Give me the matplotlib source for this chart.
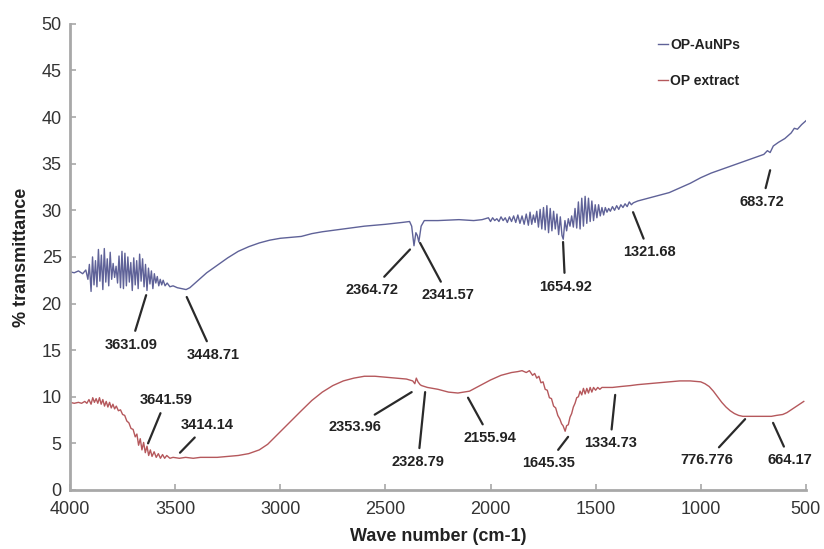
import matplotlib
matplotlib.use("Agg")
import matplotlib.pyplot as plt

plt.rcParams['font.family'] = ['Liberation Sans', 'DejaVu Sans']

# OP-AuNPs spectrum (wave number, % transmittance)
aunp_wn = [4000, 3980, 3960, 3940, 3925, 3915, 3908, 3900, 3893, 3886, 3879, 3872, 3865, 3858,
           3851, 3844, 3837, 3830, 3823, 3816, 3809, 3802, 3795, 3788, 3781, 3774, 3767, 3760,
           3753, 3746, 3739, 3732, 3725, 3718, 3711, 3704, 3697, 3690, 3683, 3676, 3669, 3662,
           3655, 3648, 3641, 3634, 3627, 3620, 3613, 3606, 3599, 3592, 3585, 3578, 3571, 3564,
           3557, 3548, 3538, 3525, 3510, 3490, 3470, 3448, 3430, 3410, 3380, 3350, 3300, 3250,
           3200, 3150, 3100, 3050, 3000, 2950, 2900, 2850, 2800, 2700, 2600, 2500, 2420, 2385,
           2375, 2364, 2355, 2348, 2341, 2330, 2315, 2250, 2150, 2080, 2040, 2010, 2000, 1990,
           1980, 1970, 1960, 1950, 1940, 1930, 1920, 1910, 1900, 1890, 1880, 1870, 1860, 1850,
           1840, 1830, 1820, 1812, 1804, 1796, 1788, 1780, 1772, 1764, 1756, 1748, 1740, 1732,
           1724, 1716, 1708, 1700, 1692, 1684, 1676, 1668, 1660, 1654, 1646, 1638, 1630, 1622,
           1614, 1606, 1598, 1590, 1582, 1574, 1566, 1558, 1550, 1542, 1534, 1526, 1518, 1510,
           1502, 1494, 1486, 1478, 1470, 1462, 1454, 1446, 1438, 1430, 1420, 1410, 1400, 1390,
           1380, 1370, 1360, 1350, 1340, 1330, 1321, 1300, 1250, 1200, 1150, 1100, 1050, 1000,
           950, 900, 850, 800, 750, 700, 683, 670, 655, 630, 600, 570, 555, 540, 520, 500]
aunp_t = [23.4, 23.3, 23.5, 23.2, 23.6, 22.6, 24.2, 21.3, 25.0, 22.0, 24.6, 21.8, 25.8, 22.4,
          25.2, 21.5, 25.9, 22.3, 24.8, 21.9, 25.5, 22.6, 24.3, 22.8, 24.0, 22.2, 25.1, 21.7,
          25.6, 21.6, 25.4, 21.9, 25.0, 22.3, 24.4, 21.4, 24.9, 22.0, 24.6, 21.6, 25.3, 22.4,
          24.8, 21.8, 24.2, 21.4, 23.8, 22.1, 23.5, 21.6, 23.2, 22.2, 22.9, 21.9, 22.6, 22.0,
          22.5, 21.9, 22.2, 21.8, 21.9, 21.7, 21.6, 21.5, 21.7, 22.1, 22.7, 23.3, 24.1, 24.9,
          25.6, 26.1, 26.5, 26.8, 27.0, 27.1, 27.2, 27.5, 27.7, 28.0, 28.3, 28.5, 28.7, 28.8,
          28.3, 26.2, 27.6, 27.3, 26.6, 28.3, 28.9, 28.9, 29.0, 28.9, 29.0, 29.2, 28.8, 29.2,
          28.9, 29.1, 28.8, 29.3, 28.9, 29.2, 28.7, 29.3, 28.8, 29.4, 28.7, 29.5, 28.6, 29.4,
          28.5, 29.6, 28.4, 29.8, 28.5, 29.5, 28.7, 29.9, 28.2, 30.1, 28.0, 30.3, 27.9, 30.5,
          27.6, 30.2, 27.8, 29.9, 28.0, 29.6, 27.4, 29.3, 27.3, 26.9, 28.9, 27.8, 29.1, 28.3,
          29.4, 28.2, 30.2, 28.1, 30.9, 28.0, 31.3, 28.3, 31.5, 28.6, 31.3, 28.8, 31.0, 28.9,
          30.6, 29.2, 30.6, 29.4, 30.3, 29.5, 30.3, 29.8, 30.2, 29.9, 30.4, 30.0, 30.5, 30.1,
          30.6, 30.3, 30.7, 30.4, 30.9, 30.6, 30.8, 31.0, 31.3, 31.6, 31.9, 32.4, 32.9, 33.5,
          34.0, 34.4, 34.8, 35.2, 35.6, 36.0, 36.4, 36.2, 36.9, 37.3, 37.7, 38.3, 38.8, 38.7,
          39.2, 39.6]

# OP extract spectrum
ext_wn = [4000, 3980, 3960, 3945, 3930, 3920, 3910, 3900, 3892, 3884, 3876, 3868, 3860, 3852,
          3844, 3836, 3828, 3820, 3812, 3804, 3796, 3788, 3780, 3770, 3760, 3750, 3740, 3730,
          3720, 3710, 3700, 3690, 3682, 3674, 3666, 3658, 3650, 3642, 3634, 3626, 3618, 3610,
          3600, 3590, 3580, 3570, 3560, 3550, 3540, 3525, 3510, 3480, 3450, 3414, 3380, 3300,
          3250, 3200, 3150, 3100, 3060, 3020, 2980, 2940, 2900, 2850, 2800, 2750, 2700, 2650,
          2600, 2550, 2500, 2450, 2400, 2370, 2360, 2353, 2345, 2335, 2328, 2300, 2250, 2200,
          2155, 2100, 2050, 2000, 1950, 1900, 1870, 1850, 1830, 1815, 1800, 1790, 1780, 1770,
          1760, 1750, 1740, 1730, 1720, 1710, 1700, 1690, 1680, 1670, 1662, 1655, 1645, 1638,
          1630, 1622, 1614, 1606, 1598, 1590, 1582, 1574, 1566, 1558, 1550, 1542, 1534, 1526,
          1518, 1510, 1500, 1490, 1480, 1470, 1450, 1420, 1380, 1334, 1300, 1250, 1200, 1150,
          1100, 1050, 1000, 980, 960, 940, 920, 900, 880, 860, 840, 820, 800, 776, 740, 700,
          664, 640, 610, 590, 570, 550, 530, 510]
ext_t = [9.4, 9.3, 9.4, 9.3, 9.5, 9.3, 9.7, 9.2, 9.9, 9.4, 9.8, 9.3, 9.9, 9.2,
         9.7, 9.0, 9.5, 8.9, 9.4, 8.8, 9.2, 8.7, 9.0, 8.5, 8.6, 8.1, 8.0, 7.4,
         7.2, 6.6, 6.5, 5.7, 6.0, 4.8, 5.5, 4.3, 5.1, 4.0, 4.7, 3.7, 4.3, 3.6,
         4.1, 3.5, 3.9, 3.4, 3.8, 3.4, 3.7, 3.4, 3.5, 3.4, 3.5, 3.4, 3.5, 3.5,
         3.6, 3.7, 3.9, 4.3, 4.9, 5.8, 6.7, 7.6, 8.5, 9.6, 10.5, 11.2, 11.7, 12.0,
         12.2, 12.2, 12.1, 12.0, 11.9, 11.7, 11.4, 12.0, 11.6, 11.3, 11.2, 11.0, 10.8, 10.5,
         10.4, 10.6, 11.2, 11.8, 12.3, 12.6, 12.7, 12.8, 12.6, 12.8, 12.3, 12.5, 12.0, 12.2,
         11.5, 11.6, 10.8, 10.7, 9.9, 9.8, 9.0, 8.8, 8.0, 7.6, 7.1, 6.9, 6.3, 6.9,
         7.0, 7.8, 8.2, 8.9, 9.3, 9.9, 10.0, 10.6, 10.2, 10.9, 10.3, 10.9, 10.4, 11.0,
         10.5, 11.0, 10.7, 11.0, 10.8, 11.0, 11.0, 11.0, 11.1, 11.2, 11.3, 11.4, 11.5, 11.6,
         11.7, 11.7, 11.6, 11.4, 11.1, 10.6, 10.0, 9.4, 8.9, 8.5, 8.2, 8.0, 7.9, 7.9, 7.9, 7.9,
         7.9, 8.0, 8.1, 8.3, 8.6, 8.9, 9.2, 9.5]

# peak labels: (text, line end on curve, text centre) in data units
aunp_peaks = [("3631.09", (3638, 20.9), (3710, 15.6)),
              ("3448.71", (3445, 20.7), (3320, 14.5)),
              ("2364.72", (2383, 25.8), (2563, 21.5)),
              ("2341.57", (2335, 26.5), (2202, 20.9)),
              ("1654.92", (1655, 26.6), (1645, 21.8)),
              ("1321.68", (1322, 29.8), (1246, 25.5)),
              ("683.72", (670, 34.3), (708, 30.9))]
ext_peaks = [("3641.59", (3629, 5.0), (3543, 9.7)),
             ("3414.14", (3477, 4.0), (3348, 7.0)),
             ("2353.96", (2375, 10.5), (2644, 6.8)),
             ("2328.79", (2311, 10.5), (2345, 3.0)),
             ("2155.94", (2107, 9.9), (2002, 5.6)),
             ("1645.35", (1631, 5.7), (1726, 2.9)),
             ("1334.73", (1407, 10.2), (1431, 5.0)),
             ("776.776", (789, 7.6), (970, 3.2)),
             ("664.17", (656, 7.2), (575, 3.2))]

blue = '#5f6298'
red = '#b5585c'
grey = '#a8a8a8'

fig = plt.figure(figsize=(8.24, 5.49), dpi=100)
ax = fig.add_axes([0.085, 0.1075, 0.893, 0.849])

ax.plot(aunp_wn, aunp_t, color=blue, lw=1.0, label='OP-AuNPs')
ax.plot(ext_wn, ext_t, color=red, lw=1.0, label='OP extract')

for label, tip, pos in aunp_peaks + ext_peaks:
    ax.annotate(label, xy=tip, xytext=pos, ha='center', va='center',
                fontsize=10.5, fontweight='bold', color='#222222',
                arrowprops=dict(arrowstyle='-', color='#2a2a2a', lw=1.6,
                                shrinkA=3, shrinkB=0))

ax.set_xlim(4000, 500)
ax.set_ylim(0, 50)
ax.set_xticks(range(4000, 499, -500))
ax.set_yticks(range(0, 51, 5))
for s in ['top', 'right']:
    ax.spines[s].set_visible(False)
for s in ['left', 'bottom']:
    ax.spines[s].set_color(grey)
    ax.spines[s].set_linewidth(2)
ax.tick_params(direction='in', length=4, width=1.2, color=grey,
               labelsize=13, labelcolor='#333333')
ax.tick_params(axis='y', pad=6)
ax.tick_params(axis='x', pad=8)

ax.set_xlabel('Wave number (cm-1)', fontsize=13, fontweight='bold', color='#222222', labelpad=7)
ax.set_ylabel('% transmittance', fontsize=13, fontweight='bold', color='#222222', labelpad=8)

leg = ax.legend(loc='upper left', bbox_to_anchor=(0.782, 0.997), frameon=False,
                handlelength=0.7, handletextpad=0.2, labelspacing=1.6,
                prop={'weight': 'bold', 'size': 10})
for t in leg.get_texts():
    t.set_color('#222222')

plt.savefig('out.png', dpi=100)
